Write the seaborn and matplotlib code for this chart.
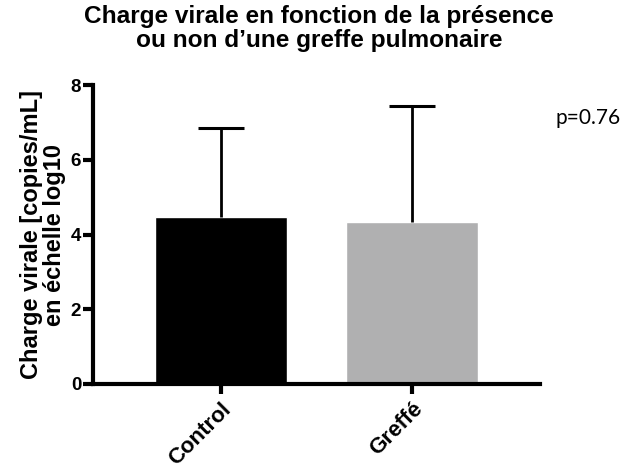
import matplotlib
matplotlib.use("Agg")
import matplotlib.pyplot as plt
import seaborn as sns
import pandas as pd

# values (log10 copies/mL)
groups = ["Control", "Greffé"]
means = [4.47, 4.35]
sd = [2.38, 3.08]
colors = ["#000000", "#b0b0b1"]

sns.set_style("ticks")
plt.rcParams['font.family'] = ['Liberation Sans', 'DejaVu Sans']
for key in ['text.color', 'axes.labelcolor', 'xtick.color', 'ytick.color', 'axes.edgecolor']:
    plt.rcParams[key] = 'black'

df = pd.DataFrame({'group': groups, 'mean': means})

fig = plt.figure(figsize=(6.28, 4.68), dpi=100)
ax = fig.add_axes([0.148, 0.1795, 0.712, 0.6385])

sns.barplot(data=df, x='group', y='mean', hue='group', palette=colors,
            width=0.69, errorbar=None, legend=False, ax=ax, saturation=1)

# upper SD only, GraphPad style
eb = ax.errorbar(range(len(groups)), means, yerr=[[0] * len(sd), sd], fmt='none',
                 ecolor='black', elinewidth=2, capsize=16.5, capthick=2.2)
eb[1][0].set_visible(False)  # drop the lower cap

ax.set_ylim(0, 8)
ax.set_xlim(-0.67, 1.67)
ax.set_yticks([0, 2, 4, 6, 8])
ax.set_xlabel('')
ax.set_ylabel("Charge virale [copies/mL]\nen échelle log10", fontsize=17,
              fontweight='bold', labelpad=3, linespacing=1.0)
for s in ['top', 'right']:
    ax.spines[s].set_visible(False)
for s in ['left', 'bottom']:
    ax.spines[s].set_linewidth(3)
ax.tick_params(axis='both', width=3, length=7)
ax.tick_params(axis='y', labelsize=13.5, pad=1.5)
for lab in ax.get_yticklabels():
    lab.set_fontweight('bold')
ax.set_xticks(range(len(groups)))
ax.set_xticklabels(groups, rotation=45, ha='right', rotation_mode='anchor',
                   fontweight='bold', fontsize=16)

fig.suptitle("Charge virale en fonction de la présence\nou non d’une greffe pulmonaire",
             fontsize=17.6, fontweight='bold', x=0.508, y=0.99, linespacing=1.05)
fig.text(0.884, 0.748, "p=0.76", fontsize=15, va='center',
         family=['Lato', 'DejaVu Sans'])

fig.savefig("out.png", dpi=100)
